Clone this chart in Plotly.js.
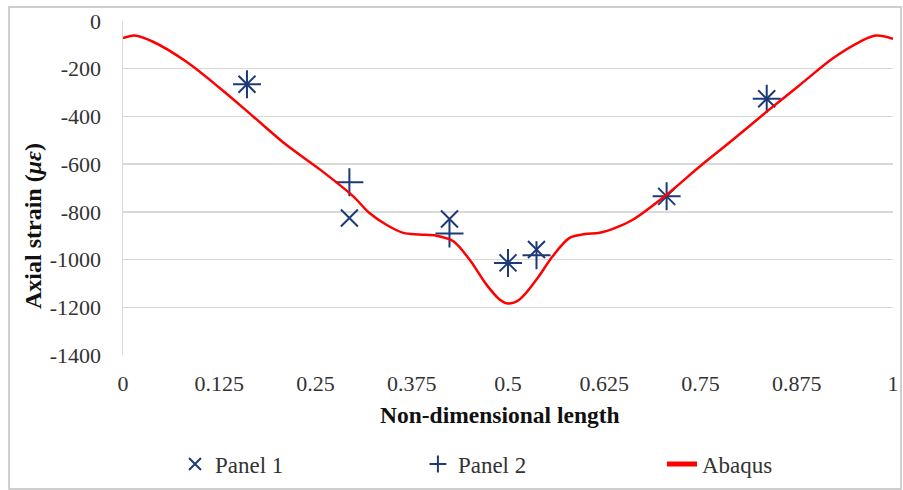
<!DOCTYPE html>
<html>
<head>
<meta charset="utf-8">
<script src="https://cdn.plot.ly/plotly-3.0.1.min.js"></script>
<style>html,body{margin:0;padding:0;background:#fff;}#chart{width:903px;height:490px;}</style>
</head>
<body>
<div id="chart"></div>
<script>
// Experimental points (non-dimensional length)
const pointX = [0.161, 0.294, 0.424, 0.5, 0.537, 0.706, 0.836];
const panel1 = [-265, -826, -830, -1014, -958, -735, -326];
const panel2 = [-265, -676, -891, -1014, -982, -735, -326];

// Abaqus curve
const abaqusX = [0, 0.015, 0.039, 0.082, 0.126, 0.169, 0.212, 0.256, 0.299, 0.320, 0.342, 0.364, 0.385, 0.407, 0.429, 0.450, 0.472, 0.489, 0.5, 0.515, 0.537, 0.558, 0.580, 0.600, 0.619, 0.641, 0.662, 0.706, 0.749, 0.792, 0.836, 0.879, 0.922, 0.957, 0.978, 1];
const abaqusY = [-72, -61, -87, -170, -282, -400, -519, -623, -735, -805, -854, -888, -895, -900, -923, -1000, -1105, -1167, -1184, -1167, -1084, -986, -909, -893, -888, -865, -833, -728, -610, -498, -380, -268, -156, -87, -61, -75];

const xTicks = [0, 0.125, 0.25, 0.375, 0.5, 0.625, 0.75, 0.875, 1];
const xTickLabels = ['0', '0.125', '0.25', '0.375', '0.5', '0.625', '0.75', '0.875', '1'];
const yTicks = [0, -200, -400, -600, -800, -1000, -1200, -1400];
const yTickLabels = ['0', '-200', '-400', '-600', '-800', '-1000', '-1200', '-1400'];

const navy = '#1c3a78';
const font = 'Liberation Serif, Times New Roman, serif';

const traces = [
  {x: pointX, y: panel1, name: 'Panel 1', type: 'scatter', mode: 'markers', legend: 'legend',
   marker: {symbol: 'x-thin', size: 17, color: navy, line: {color: navy, width: 2}}},
  {x: pointX, y: panel2, name: 'Panel 2', type: 'scatter', mode: 'markers', legend: 'legend2',
   marker: {symbol: 'cross-thin', size: 20, color: navy, line: {color: navy, width: 2}}},
  {x: abaqusX, y: abaqusY, name: 'Abaqus', type: 'scatter', mode: 'lines', legend: 'legend3',
   line: {color: '#ff0000', width: 2.5, shape: 'spline', smoothing: 0.9}}
];

const legBase = {orientation: 'h', yref: 'container', y: 0.053, yanchor: 'middle', xanchor: 'left',
                 itemsizing: 'constant', bgcolor: 'rgba(0,0,0,0)', font: {size: 23, family: font, color: '#333'}};

const layout = {
  width: 903, height: 490,
  margin: {l: 123, r: 10, t: 21, b: 135},
  paper_bgcolor: '#fff', plot_bgcolor: '#fff',
  font: {family: font, size: 22, color: '#333'},
  showlegend: true,
  legend: Object.assign({}, legBase, {x: 0.0675}),
  legend2: Object.assign({}, legBase, {x: 0.383}),
  legend3: Object.assign({}, legBase, {x: 0.7}),
  xaxis: {range: [0, 1], tickvals: xTicks, ticktext: xTickLabels, showgrid: false,
          zeroline: false, showline: false, ticks: '', ticklabelstandoff: 13, fixedrange: true},
  yaxis: {range: [-1400, 0], tickvals: yTicks, ticktext: yTickLabels, showgrid: true, gridcolor: '#d9d9d9', gridwidth: 1.5,
          zeroline: false, showline: true, linecolor: '#d9d9d9', linewidth: 1.5, ticks: '',
          ticklabelstandoff: 16, fixedrange: true},
  annotations: [
    {text: '<b>Non-dimensional length</b>', xref: 'paper', yref: 'paper', x: 0.49, y: -0.18,
     xanchor: 'center', yanchor: 'middle', showarrow: false, font: {size: 23.5, family: font, color: '#111'}},
    {text: '<b>Axial strain (<i>με</i>)</b>', xref: 'paper', yref: 'paper', x: -0.117, y: 0.386,
     xanchor: 'center', yanchor: 'middle', textangle: -90, showarrow: false, font: {size: 24, family: font, color: '#111'}}
  ],
  shapes: [
    {type: 'rect', xref: 'paper', yref: 'paper', x0: -0.148, x1: 1.0104, y0: -0.401, y1: 1.042,
     line: {color: '#bfbfbf', width: 1.5}, fillcolor: 'rgba(0,0,0,0)', layer: 'below'}
  ]
};

Plotly.newPlot('chart', traces, layout, {displayModeBar: false, staticPlot: true});
</script>
</body>
</html>
